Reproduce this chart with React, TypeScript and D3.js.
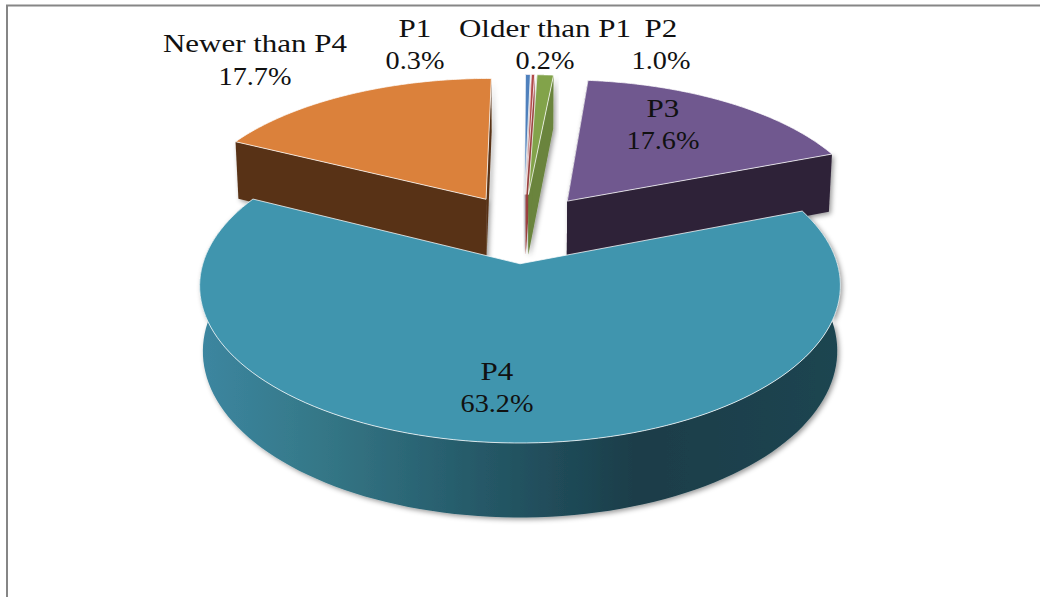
import React from "react";
import * as d3 from "d3";

const categories = ["P1", "Older than P1", "P2", "P3", "P4", "Newer than P4"];
const shares = [0.3, 0.2, 1.0, 17.6, 63.2, 17.7];
const topColors = ["#4f81bd", "#b14a48", "#82a34a", "#70588f", "#4095ae", "#db813b"];
const wallColors = ["#b9c2cc", "#a04442", "#6a843c", "#2e2339", "#1d4551", "#593316"];
const drawOrder = [0, 1, 2, 5, 3, 4];
const labelSpots: [number, number, number][] = [
  [415, 37, 69],
  [545, 37, 69],
  [661, 37, 69],
  [663, 117, 149],
  [497, 380, 412],
  [255, 52, 85],
];

const W = 1040;
const H = 597;
const startDeg = 0.2;
const explode = 0.24;
const xc = 523.7;
const yc = 228;
const ax = 307;
const by = 144.4;
const persp = 0.135;
const drop = 62;
const shrink = 0.99;

type P = [number, number];
const project = (u: number, v: number, bottom: boolean): P => {
  const w = 1 + persp * v;
  const x = xc + ((bottom ? shrink : 1) * ax * u) / w;
  const y = yc - (by * v - (bottom ? drop : 0)) / w;
  return [x, y];
};

const line = d3.line<P>().x((p) => p[0]).y((p) => p[1]);
const pieGen = d3
  .pie<number>()
  .sort(null)
  .startAngle((startDeg * Math.PI) / 180)
  .endAngle((startDeg * Math.PI) / 180 + 2 * Math.PI);
const arcs = pieGen(shares);

const sliceGeometry = (i: number) => {
  const a = arcs[i];
  const mid = (a.startAngle + a.endAngle) / 2;
  const u0 = explode * Math.sin(mid);
  const v0 = explode * Math.cos(mid);
  const rim = (t: number, bottom: boolean): P => project(u0 + Math.sin(t), v0 + Math.cos(t), bottom);
  const ts = d3.range(0, 121).map((n) => a.startAngle + ((a.endAngle - a.startAngle) * n) / 120);
  const apexTop = project(u0, v0, false);
  const apexBot = project(u0, v0, true);
  const top = line([apexTop, ...ts.map((t) => rim(t, false))]) + "Z";
  const radial = (t: number) => line([apexTop, rim(t, false), rim(t, true), apexBot]) + "Z";
  const wall = line([...ts.map((t) => rim(t, false)), ...ts.slice().reverse().map((t) => rim(t, true))]) + "Z";
  return { top, wall, startFace: radial(a.startAngle), endFace: radial(a.endAngle) };
};

export default function App() {
  const font = { fontFamily: "'Liberation Serif', serif", fontSize: 25, fill: "#111" };
  const Label = ({ x, y, s, sx }: { x: number; y: number; s: string; sx: number }) => (
    <text transform={`translate(${x},${y}) scale(${sx},1)`} textAnchor="middle" {...font}>
      {s}
    </text>
  );
  return (
    <svg width={W} height={H} style={{ position: "absolute", left: 0, top: 0, background: "#fff" }}>
      <defs>
        <filter id="shade" x="-20%" y="-20%" width="140%" height="140%">
          <feDropShadow dx="2" dy="2" stdDeviation="2.5" floodColor="#000" floodOpacity="0.4" />
        </filter>
        <linearGradient id="frontWall" gradientUnits="userSpaceOnUse" x1="200" y1="0" x2="844" y2="0">
          <stop offset="0" stopColor="#3c86a0" />
          <stop offset="0.18" stopColor="#357888" />
          <stop offset="0.4" stopColor="#275d6c" />
          <stop offset="0.68" stopColor="#1a3d49" />
          <stop offset="1" stopColor="#1d4551" />
        </linearGradient>
      </defs>
      <path d={`M7,${H}V5.5H${W}`} fill="none" stroke="#868686" strokeWidth={2} />
      {drawOrder.map((i) => {
        const g = sliceGeometry(i);
        const isMain = categories[i] === "P4";
        return (
          <g key={categories[i]}>
            <g filter="url(#shade)">
              {isMain ? (
                <path d={g.wall} fill="url(#frontWall)" />
              ) : (
                <>
                  <path d={g.endFace} fill={wallColors[i]} />
                  <path d={g.startFace} fill={wallColors[i]} />
                </>
              )}
            </g>
            <path d={g.top} fill={topColors[i]} stroke="#fff" strokeOpacity={0.75} strokeWidth={1} strokeLinejoin="round" />
          </g>
        );
      })}
      {categories.map((c, i) => (
        <g key={c}>
          <Label x={labelSpots[i][0]} y={labelSpots[i][1]} s={c} sx={1.24} />
          <Label x={labelSpots[i][0]} y={labelSpots[i][2]} s={`${shares[i].toFixed(1)}%`} sx={1.13} />
        </g>
      ))}
    </svg>
  );
}
